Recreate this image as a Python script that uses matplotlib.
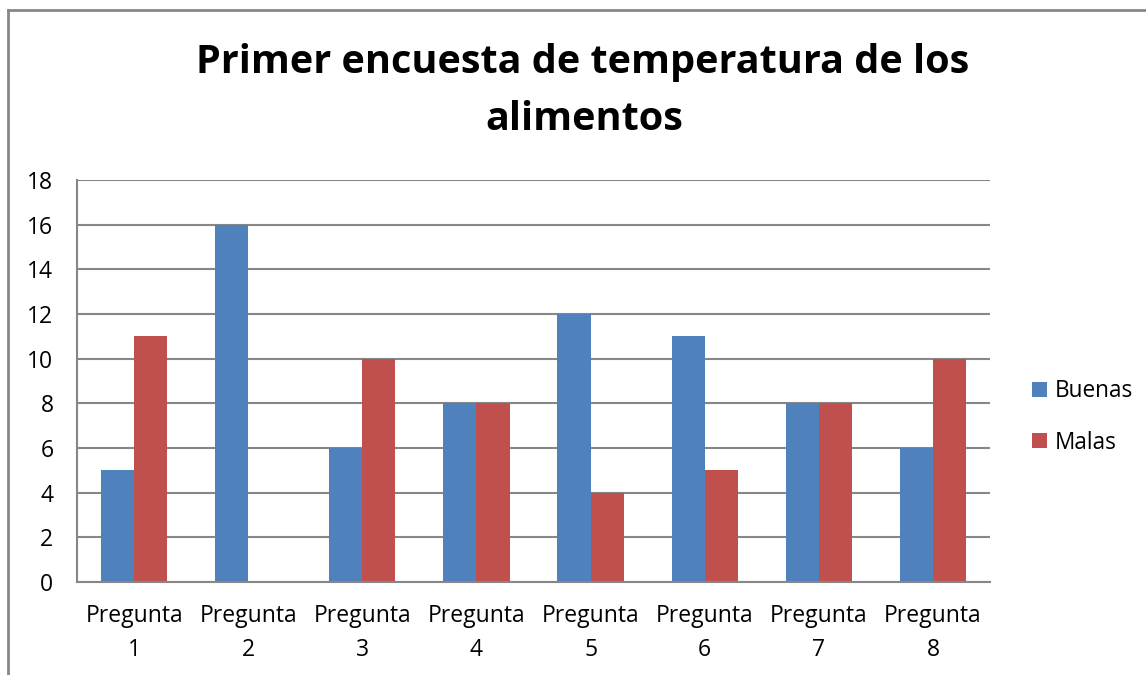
import matplotlib
matplotlib.use("Agg")
import matplotlib.pyplot as plt
from matplotlib.lines import Line2D
import numpy as np

categories = ["Pregunta\n1", "Pregunta\n2", "Pregunta\n3", "Pregunta\n4",
              "Pregunta\n5", "Pregunta\n6", "Pregunta\n7", "Pregunta\n8"]
buenas = [5, 16, 6, 8, 12, 11, 8, 6]
malas = [11, 0, 10, 8, 4, 5, 8, 10]
yticks = [0, 2, 4, 6, 8, 10, 12, 14, 16, 18]

plt.rcParams['font.family'] = ['Open Sans', 'DejaVu Sans']

W, H = 1146, 675
fig = plt.figure(figsize=(W / 100, H / 100), dpi=100)
ax = fig.add_axes([77 / W, 1 - 582 / H, (990 - 77) / W, (582 - 180) / H])

x = np.arange(len(categories))
bw = 0.29
ax.bar(x - bw / 2, buenas, bw, color="#4F81BD", label="Buenas", zorder=3)
ax.bar(x + bw / 2, malas, bw, color="#C0504D", label="Malas", zorder=3)

ax.set_xlim(-0.5, len(categories) - 0.5)
ax.set_ylim(0, 18)
ax.set_yticks(yticks)
ax.set_xticks(x)
ax.set_xticklabels(categories, fontsize=16.5, linespacing=1.55)
ax.tick_params(axis='y', labelsize=16.5, length=0, pad=17)
ax.tick_params(axis='x', length=0, pad=16)
for lbl in ax.get_yticklabels():
    lbl.set_horizontalalignment('right')

ax.grid(axis='y', color="#878787", linewidth=1.5, zorder=1)
for s in ['top', 'right']:
    ax.spines[s].set_visible(False)
ax.spines['left'].set_color("#878787")
ax.spines['left'].set_linewidth(1.5)
ax.spines['bottom'].set_color("#878787")
ax.spines['bottom'].set_linewidth(1.5)
ax.spines['bottom'].set_zorder(4)

fig.text(583 / W, 1 - 62 / H, "Primer encuesta de temperatura de los",
         ha='center', va='center', fontsize=28.5, fontweight='bold')
fig.text(584 / W, 1 - 120 / H, "alimentos",
         ha='center', va='center', fontsize=28.5, fontweight='bold')

leg = fig.legend(loc='center left', bbox_to_anchor=(1014 / W, 1 - 417 / H),
                 frameon=False, fontsize=16.3, handlelength=0.65, handleheight=0.65,
                 handletextpad=0.35, labelspacing=1.2, borderpad=0.3)

# chart frame (left and top edges visible)
fig.add_artist(Line2D([7.5 / W, 7.5 / W], [0, 1 - 10 / H], transform=fig.transFigure,
                      color="#878787", linewidth=2))
fig.add_artist(Line2D([7.5 / W, 1], [1 - 10 / H, 1 - 10 / H], transform=fig.transFigure,
                      color="#878787", linewidth=2))

fig.savefig("out.png", dpi=100)
